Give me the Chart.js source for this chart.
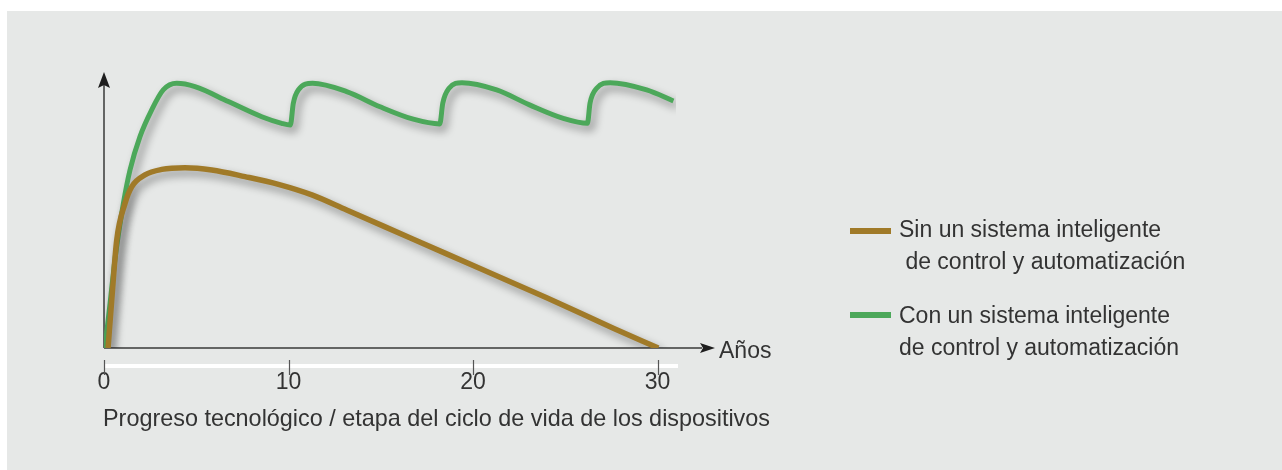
<!DOCTYPE html>
<html>
<head>
<meta charset="utf-8">
<script src="https://cdn.jsdelivr.net/npm/chart.js@4"></script>
<style>
  html, body { margin: 0; padding: 0; background: #ffffff; }
  #wrap { position: relative; width: 1282px; height: 470px; overflow: hidden; }
  #panel { position: absolute; left: 7px; top: 11px; width: 1275px; height: 459px; background: #e6e8e7; }
  #grafico { position: absolute; left: 0; top: 0; }
  .txt { position: absolute; font-family: "Liberation Sans", Arial, sans-serif; font-size: 23px; line-height: 32px; color: #333333; white-space: pre; }
  .swatch { position: absolute; width: 41px; height: 6px; }
</style>
</head>
<body>
<div id="wrap">
  <div id="panel"></div>
  <canvas id="grafico" width="1282" height="470"></canvas>
  <div class="txt" style="left:719px; top:334px;">Años</div>
  <div class="txt" id="titulo" style="left:103px; top:402px; font-size:23.4px;"></div>
  <div class="swatch" style="left:850px; top:228px; background:#a07a28;"></div>
  <div class="txt" style="left:899px; top:213px;">Sin un sistema inteligente<br> de control y automatización</div>
  <div class="swatch" style="left:850px; top:312px; background:#4ca85a;"></div>
  <div class="txt" style="left:899px; top:299px;">Con un sistema inteligente<br>de control y automatización</div>
</div>
<script>
// Valores (años / nivel relativo)
const tickValues = [0, 10, 20, 30];
const axisTitle = 'Progreso tecnológico / etapa del ciclo de vida de los dispositivos';

const brownX = [0.22, 0.42, 0.69, 1.14, 1.5, 2.22, 3.13, 4.39, 5.84, 7.64, 9.45, 11.3, 13.15, 16.76, 20.38, 23.99, 27.6, 30.04];
const brownY = [0, 17.4, 39.1, 52.4, 58.4, 62.7, 64.7, 65.3, 64.5, 62.1, 59.3, 55.4, 50.0, 39.4, 28.8, 18.2, 7.2, 0];

const greenX = [0.05, 0.33, 0.62, 1.05, 1.41, 1.95, 2.58, 3.21, 3.94, 4.93, 6.74, 8.55, 9.63, 10.1, 10.26, 10.53, 11.3, 13.15, 14.96, 16.76, 18.2, 18.36, 18.7, 19.4, 21.28, 23.09, 24.89, 26.2, 26.34, 26.7, 27.43, 29.41, 30.86];
const greenY = [0, 16.2, 33.5, 52.4, 64.5, 76.6, 86.2, 93.5, 95.9, 94.7, 89.3, 83.8, 81.4, 80.8, 88.7, 93.5, 95.9, 92.9, 87.4, 82.9, 81.2, 88.7, 94.1, 96.1, 93.5, 88.0, 83.2, 81.4, 88.7, 94.1, 96.1, 93.5, 89.5];

const labels = ['Sin un sistema inteligente de control y automatización', 'Con un sistema inteligente de control y automatización'];

document.getElementById('titulo').textContent = axisTitle;

function toPoints(xs, ys) {
    return xs.map(function(x, i) { return { x: x, y: ys[i] }; });
}

// sombra de las curvas
const sombra = {
    id: 'sombra',
    beforeDatasetDraw: function(chart) {
        const ctx = chart.ctx;
        ctx.save();
        ctx.shadowColor = 'rgba(0,0,0,0.4)';
        ctx.shadowBlur = 8;
        ctx.shadowOffsetX = 4;
        ctx.shadowOffsetY = 5;
    },
    afterDatasetDraw: function(chart) {
        chart.ctx.restore();
    }
};

// ejes con flechas, banda blanca y marcas
const ejes = {
    id: 'ejes',
    beforeDatasetsDraw: function(chart) {
        const ctx = chart.ctx;
        const xs = chart.scales.x;
        const ys = chart.scales.y;
        const x0 = xs.getPixelForValue(0);
        const y0 = ys.getPixelForValue(0);
        const yTop = ys.getPixelForValue(100);
        ctx.save();
        // banda blanca
        ctx.fillStyle = '#ffffff';
        ctx.fillRect(x0, y0 + 16, xs.right - x0 + 2, 4);
        // marcas
        ctx.strokeStyle = '#555555';
        ctx.lineWidth = 1.2;
        tickValues.forEach(function(v) {
            const px = Math.round(xs.getPixelForValue(v)) + 0.5;
            ctx.beginPath();
            ctx.moveTo(px, y0 + 12);
            ctx.lineTo(px, y0 + 27);
            ctx.stroke();
        });
        // ejes
        ctx.strokeStyle = '#3a3a3a';
        ctx.fillStyle = '#1e1e1e';
        ctx.lineWidth = 1.5;
        ctx.beginPath();
        ctx.moveTo(x0, y0);
        ctx.lineTo(x0, yTop + 10);
        ctx.moveTo(x0, y0);
        ctx.lineTo(xs.right + 26, y0);
        ctx.stroke();
        // flecha vertical
        ctx.beginPath();
        ctx.moveTo(x0, yTop);
        ctx.lineTo(x0 + 6, yTop + 16);
        ctx.lineTo(x0, yTop + 13);
        ctx.lineTo(x0 - 6, yTop + 16);
        ctx.closePath();
        ctx.fill();
        // flecha horizontal
        ctx.beginPath();
        ctx.moveTo(xs.right + 39, y0);
        ctx.lineTo(xs.right + 24, y0 - 5);
        ctx.lineTo(xs.right + 27, y0);
        ctx.lineTo(xs.right + 24, y0 + 5);
        ctx.closePath();
        ctx.fill();
        ctx.restore();
    }
};

const ctx = document.getElementById('grafico').getContext('2d');
const chart = new Chart(ctx, {
    type: 'line',
    data: {
        datasets: [{
            label: labels[0],
            data: toPoints(brownX, brownY),
            borderColor: '#a07a28',
            borderWidth: 5.5,
            pointRadius: 0,
            fill: false,
            cubicInterpolationMode: 'monotone'
        }, {
            label: labels[1],
            data: toPoints(greenX, greenY),
            borderColor: '#4ca85a',
            borderWidth: 5,
            pointRadius: 0,
            fill: false,
            cubicInterpolationMode: 'monotone'
        }]
    },
    options: {
        responsive: false,
        animation: false,
        layout: {
            padding: { left: 104, top: 72, right: 606, bottom: 72 }
        },
        plugins: {
            legend: { display: false },
            tooltip: { enabled: false }
        },
        scales: {
            x: {
                type: 'linear',
                min: 0,
                max: 31,
                afterBuildTicks: function(scale) {
                    scale.ticks = tickValues.map(function(v) { return { value: v }; });
                },
                afterFit: function(scale) {
                    scale.height = 50;
                },
                border: { display: false },
                grid: { display: false, drawTicks: false },
                ticks: {
                    padding: 21,
                    color: '#333333',
                    font: { family: '"Liberation Sans", Arial, sans-serif', size: 23 }
                }
            },
            y: {
                display: false,
                min: 0,
                max: 100
            }
        }
    },
    plugins: [ejes, sombra]
});
</script>
</body>
</html>
